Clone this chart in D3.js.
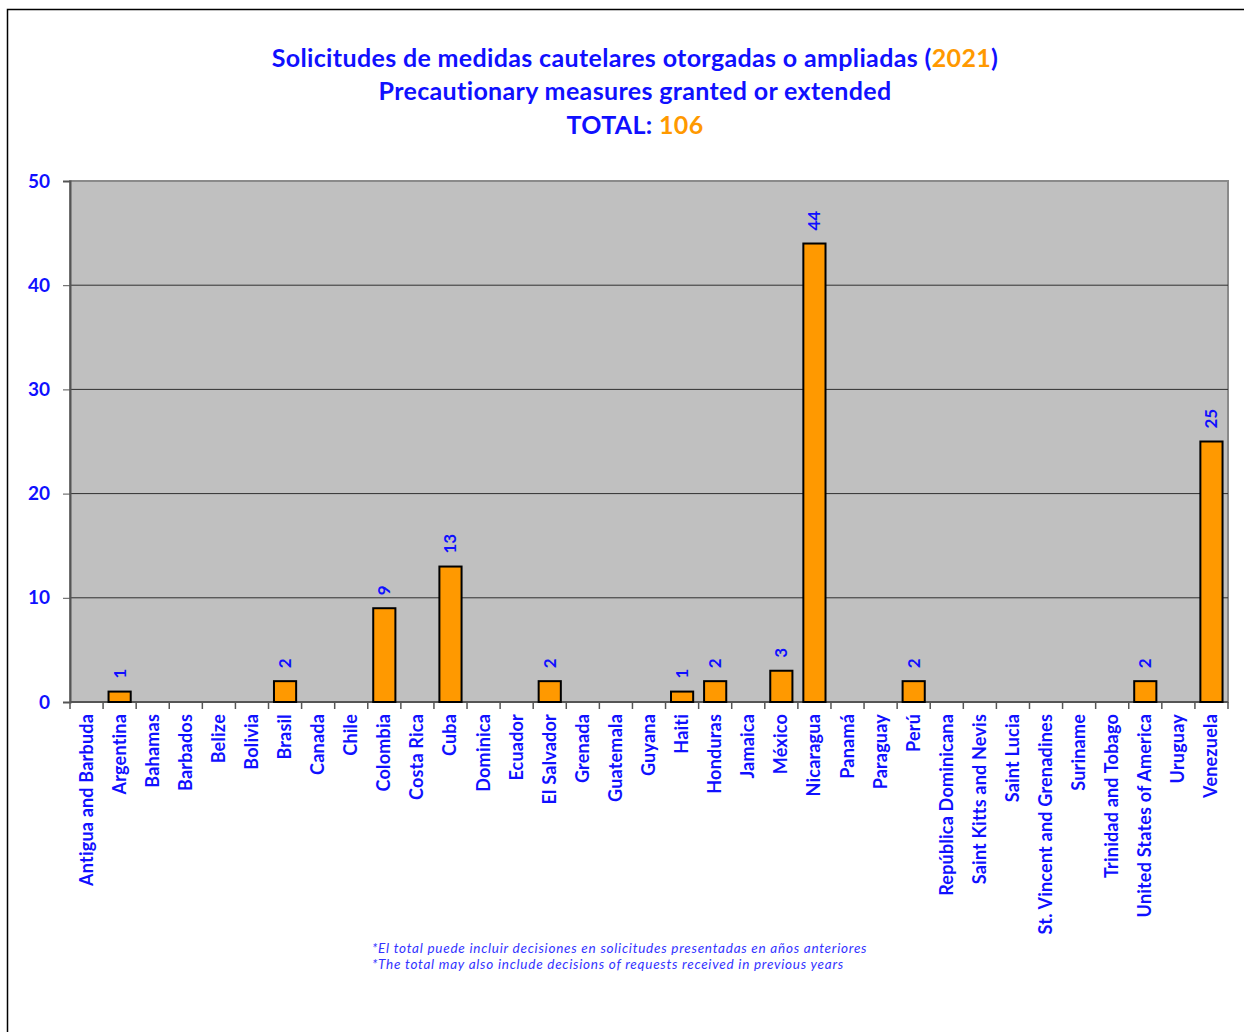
<!DOCTYPE html>
<html>
<head>
<meta charset="utf-8">
<script src="https://cdn.jsdelivr.net/npm/d3@7"></script>
<style>
  body { margin: 0; background: #fff; }
  text { font-family: Lato, "Open Sans", sans-serif; font-variant-ligatures: none; }
</style>
</head>
<body>
<div id="viz"></div>
<script>
"use strict";

var countries = ["Antigua and Barbuda", "Argentina", "Bahamas", "Barbados", "Belize", "Bolivia", "Brasil",
	"Canada", "Chile", "Colombia", "Costa Rica", "Cuba", "Dominica", "Ecuador", "El Salvador", "Grenada",
	"Guatemala", "Guyana", "Haiti", "Honduras", "Jamaica", "México", "Nicaragua", "Panamá", "Paraguay",
	"Perú", "República Dominicana", "Saint Kitts and Nevis", "Saint Lucia", "St. Vincent and Grenadines",
	"Suriname", "Trinidad and Tobago", "United States of America", "Uruguay", "Venezuela"];
var measures = [0, 1, 0, 0, 0, 0, 2, 0, 0, 9, 0, 13, 0, 0, 2, 0, 0, 0, 1, 2, 0, 3, 44, 0, 0, 2, 0, 0, 0, 0, 0, 0, 2, 0, 25];
var yTicks = [0, 10, 20, 30, 40, 50];
var year = "2021";
var notes = ["*El total puede  incluir decisiones en solicitudes presentadas en años anteriores",
	"*The total may also include decisions of requests received in previous years"];

var chartW = 1244, chartH = 1032,
	plotLeft = 70, plotRight = 1228, plotTop = 181, plotBottom = 702,
	blue = "#1010ff", orange = "#ff9900";

var svg = d3.select("#viz").append("svg")
	.attr("width", chartW)
	.attr("height", chartH)

// outer frame
svg.append("path")
	.attr("d", "M7.5," + chartH + "V9.5H" + chartW)
	.attr("fill", "none")
	.attr("stroke", "#000")
	.attr("stroke-width", 1.5)

var x = d3.scaleBand().domain(countries).range([plotLeft, plotRight]).paddingInner(0.33).paddingOuter(0.165)
var xb = d3.scaleBand().domain(countries).range([plotLeft, plotRight])
var y = d3.scaleLinear().domain([0, 50]).range([plotBottom, plotTop])

svg.append("rect")
	.attr("x", plotLeft).attr("y", plotTop)
	.attr("width", plotRight - plotLeft).attr("height", plotBottom - plotTop)
	.attr("fill", "#c0c0c0")
	.attr("stroke", "#8a8a8a")
	.attr("stroke-width", 2)

svg.append("g").selectAll("line")
	.data(yTicks.filter(function(d){ return d > 0 && d < 50 }))
	.enter().append("line")
	.attr("x1", plotLeft).attr("x2", plotRight)
	.attr("y1", function(d){ return y(d) }).attr("y2", function(d){ return y(d) })
	.attr("stroke", "#303030")
	.attr("stroke-width", 1)

// y axis
var yAxis = svg.append("g")
	.attr("transform", "translate(" + plotLeft + ",0)")
	.call(d3.axisLeft(y).tickValues(yTicks).tickSize(7).tickPadding(13))
yAxis.select(".domain").attr("stroke", "#555").attr("stroke-width", 2)
yAxis.selectAll(".tick line").attr("stroke", "#555")
yAxis.selectAll(".tick text")
	.attr("fill", blue)
	.attr("font-size", "19px")
	.attr("font-weight", "bold")
	.attr("font-family", "Lato, sans-serif")

// x axis line and ticks at band boundaries
svg.append("line")
	.attr("x1", plotLeft).attr("x2", plotRight)
	.attr("y1", plotBottom).attr("y2", plotBottom)
	.attr("stroke", "#555").attr("stroke-width", 2)
svg.append("g").selectAll("line")
	.data(countries.concat(["end"]))
	.enter().append("line")
	.attr("x1", function(d, i){ return plotLeft + i * xb.bandwidth() })
	.attr("x2", function(d, i){ return plotLeft + i * xb.bandwidth() })
	.attr("y1", plotBottom).attr("y2", plotBottom + 7)
	.attr("stroke", "#555").attr("stroke-width", 1.5)

svg.append("g").selectAll("text")
	.data(countries)
	.enter().append("text")
	.attr("transform", function(d){ return "translate(" + (xb(d) + xb.bandwidth() / 2 + 6) + "," + (plotBottom + 12) + ") rotate(-90)" })
	.attr("text-anchor", "end")
	.attr("fill", blue)
	.attr("font-size", "18px")
	.attr("letter-spacing", "0.2px")
	.attr("font-weight", "bold")
	.text(function(d){ return d })

// bars
var data = countries.map(function(c, i){ return {name: c, value: measures[i]} })
var withValue = data.filter(function(d){ return d.value > 0 })

svg.append("g").selectAll("rect")
	.data(withValue)
	.enter().append("rect")
	.attr("x", function(d){ return x(d.name) })
	.attr("y", function(d){ return y(d.value) })
	.attr("width", x.bandwidth())
	.attr("height", function(d){ return y(0) - y(d.value) })
	.attr("fill", orange)
	.attr("stroke", "#000")
	.attr("stroke-width", 2)

svg.append("g").selectAll("text")
	.data(withValue)
	.enter().append("text")
	.attr("transform", function(d){ return "translate(" + (xb(d.name) + xb.bandwidth() / 2 + 6) + "," + (y(d.value) - 13) + ") rotate(-90)" })
	.attr("fill", blue)
	.attr("font-size", "17px")
	.attr("font-weight", "bold")
	.text(function(d){ return d.value })

// titles
var total = d3.sum(measures)
var titleSize = "25px", titleSpacing = "0.35px"
var t1 = svg.append("text")
	.attr("x", 635).attr("y", 67)
	.attr("text-anchor", "middle")
	.attr("font-size", titleSize).attr("font-weight", "bold")
	.attr("letter-spacing", titleSpacing)
	.attr("fill", blue)
t1.append("tspan").text("Solicitudes de medidas cautelares otorgadas o ampliadas (")
t1.append("tspan").attr("fill", orange).text(year)
t1.append("tspan").text(")")

svg.append("text")
	.attr("x", 635).attr("y", 100)
	.attr("text-anchor", "middle")
	.attr("font-size", titleSize).attr("font-weight", "bold")
	.attr("letter-spacing", titleSpacing)
	.attr("fill", blue)
	.text("Precautionary measures granted or extended")

var t3 = svg.append("text")
	.attr("x", 635).attr("y", 134)
	.attr("text-anchor", "middle")
	.attr("font-size", titleSize).attr("font-weight", "bold")
	.attr("letter-spacing", titleSpacing)
	.attr("fill", blue)
t3.append("tspan").text("TOTAL: ")
t3.append("tspan").attr("fill", orange).text(total)

svg.append("g").selectAll("text")
	.data(notes)
	.enter().append("text")
	.attr("x", 372)
	.attr("y", function(d, i){ return 953 + i * 16 })
	.attr("font-size", "13.5px")
	.attr("font-style", "italic")
	.attr("letter-spacing", "0.75px")
	.attr("fill", "#3333ff")
	.text(function(d){ return d })
</script>
</body>
</html>
